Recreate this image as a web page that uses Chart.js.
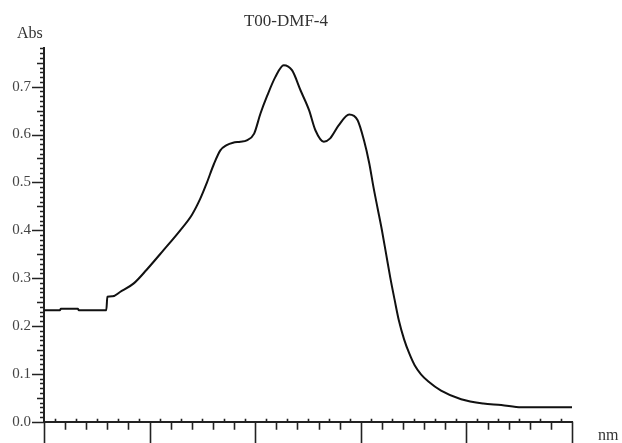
<!DOCTYPE html>
<html>
<head>
<meta charset="utf-8">
<script src="https://cdn.jsdelivr.net/npm/chart.js@4/dist/chart.umd.min.js"></script>
<style>
  html, body { margin: 0; padding: 0; background: #fff; overflow: hidden; }
  #wrap { width: 622px; height: 443px; overflow: hidden; }
</style>
</head>
<body>
<div id="wrap"><canvas id="spectrum" width="622" height="470"></canvas></div>
<script>
'use strict'
const chartTitle = 'T00-DMF-4';
const wavelengths = [300, 315, 316, 332, 333, 359, 360, 365, 372, 385,
  397, 413, 429, 440, 448, 454, 461, 467, 473, 479,
  486, 492, 499, 505, 511, 519, 527, 535, 543, 551,
  557, 565, 571, 579, 589, 597, 603, 608, 612, 616,
  620, 624, 628, 632, 636, 641, 646, 651, 657, 664,
  676, 695, 716, 733, 752, 800];
const absorbance = [0.233, 0.233, 0.236, 0.236, 0.233, 0.233, 0.261, 0.262, 0.271, 0.289,
  0.317, 0.358, 0.400, 0.432, 0.466, 0.498, 0.539, 0.567, 0.578, 0.583,
  0.585, 0.588, 0.602, 0.644, 0.679, 0.720, 0.745, 0.734, 0.692, 0.651,
  0.609, 0.585, 0.592, 0.619, 0.642, 0.630, 0.588, 0.540, 0.490, 0.445,
  0.400, 0.350, 0.300, 0.255, 0.212, 0.172, 0.142, 0.118, 0.099, 0.084,
  0.065, 0.047, 0.038, 0.035, 0.030, 0.030];
const xTicks = [300, 400, 500, 600, 700, 800];
const yTicks = [0.0, 0.1, 0.2, 0.3, 0.4, 0.5, 0.6, 0.7];
const xRange = [300, 800];
const yRange = [0, 0.78];

const serif = "'Liberation Serif', 'DejaVu Serif', serif";

let points = [];
for (let i = 0; i < wavelengths.length; i++) {
  points.push({ x: wavelengths[i], y: absorbance[i] });
}

// tick marks and the axis captions, drawn off the chart's own scales
const axisMarks = {
  id: 'axisMarks',
  afterDraw(chart) {
    const ctx = chart.ctx;
    const xs = chart.scales.x;
    const ys = chart.scales.y;
    const area = chart.chartArea;
    ctx.save();
    ctx.strokeStyle = '#222';
    ctx.lineWidth = 1.6;
    ctx.beginPath();
    for (let v = 0; v <= 78; v++) {
      let py = Math.round(ys.getPixelForValue(v / 100)) + 0.5;
      let len = v % 10 === 0 ? 12 : (v % 5 === 0 ? 7 : 4);
      ctx.moveTo(area.left - len, py);
      ctx.lineTo(area.left + 1, py);
    }
    for (let w = xRange[0]; w <= xRange[1]; w += 10) {
      let px = Math.round(xs.getPixelForValue(w)) + 0.5;
      if (w % 100 === 0) {
        ctx.moveTo(px, area.bottom);
        ctx.lineTo(px, area.bottom + 22);
      } else if (w % 20 === 0) {
        ctx.moveTo(px, area.bottom);
        ctx.lineTo(px, area.bottom + 8);
      } else {
        ctx.moveTo(px, area.bottom);
        ctx.lineTo(px, area.bottom - 3);
      }
    }
    ctx.stroke();
    ctx.fillStyle = '#333';
    ctx.font = '16px ' + serif;
    ctx.textBaseline = 'alphabetic';
    ctx.textAlign = 'left';
    ctx.fillText('Abs', area.left - 27, 38);
    ctx.fillText('nm', area.right + 26, 440);
    ctx.restore();
  }
};

new Chart(document.getElementById('spectrum'), {
  type: 'line',
  data: {
    datasets: [{
      label: chartTitle,
      data: points,
      borderColor: '#111',
      borderWidth: 2,
      pointRadius: 0,
      cubicInterpolationMode: 'monotone',
      fill: false
    }]
  },
  options: {
    responsive: false,
    animation: false,
    layout: { padding: { left: 0, right: 50, top: 0, bottom: 0 } },
    plugins: {
      legend: { display: false },
      tooltip: { enabled: false },
      title: {
        display: true,
        text: chartTitle,
        color: '#333',
        font: { family: serif, size: 17, weight: 'normal' },
        padding: { top: 11, bottom: 17 }
      }
    },
    scales: {
      x: {
        type: 'linear',
        min: xRange[0],
        max: xRange[1],
        afterBuildTicks: function (scale) {
          scale.ticks = xTicks.map(v => ({ value: v }));
        },
        afterFit: function (scale) { scale.height = 48.3; },
        grid: { display: false, drawTicks: false },
        border: { display: true, color: '#222', width: 2 },
        ticks: {
          color: '#444',
          padding: 19,
          maxRotation: 0,
          font: { family: serif, size: 15 }
        }
      },
      y: {
        type: 'linear',
        min: yRange[0],
        max: yRange[1],
        afterBuildTicks: function (scale) {
          scale.ticks = yTicks.map(v => ({ value: v }));
        },
        afterFit: function (scale) { scale.width = 44; },
        grid: { display: false, drawTicks: false },
        border: { display: true, color: '#222', width: 2 },
        ticks: {
          color: '#444',
          padding: 13,
          font: { family: serif, size: 15 },
          callback: function (value) { return value.toFixed(1); }
        }
      }
    }
  },
  plugins: [axisMarks]
});
</script>
</body>
</html>
